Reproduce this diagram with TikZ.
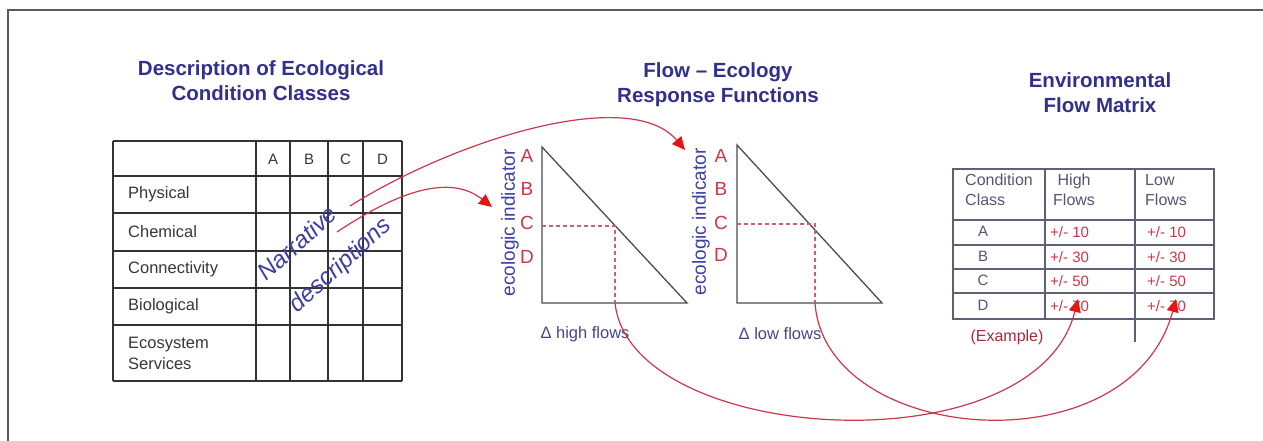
\documentclass[tikz,border=0pt]{standalone}
\usepackage{fontspec}
\setmainfont{Liberation Sans}
\usetikzlibrary{arrows.meta}
\definecolor{navy}{RGB}{50,48,140}
\definecolor{tblue}{RGB}{62,62,165}
\definecolor{lblue}{RGB}{70,70,140}
\definecolor{cred}{RGB}{205,55,75}
\definecolor{ared}{RGB}{230,20,20}
\definecolor{dred}{RGB}{205,95,115}
\definecolor{mline}{RGB}{95,95,120}
\definecolor{ltext}{RGB}{55,55,55}
\definecolor{mtext}{RGB}{85,85,115}
\begin{document}
\begin{tikzpicture}[x=1pt,y=-1pt,
  title/.style={font=\fontsize{20.5}{25}\selectfont\bfseries, text=navy, align=center, inner sep=0pt},
  rowlab/.style={font=\fontsize{16.5}{21}\selectfont, text=ltext, anchor=west, align=left, inner sep=0pt},
  collab/.style={font=\fontsize{15}{18}\selectfont, text=ltext, inner sep=0pt},
  tline/.style={line width=1.7pt, draw=black!80},
  gline/.style={line width=1.3pt, draw=black!70},
  dline/.style={line width=1.1pt, draw=dred, dash pattern=on 4pt off 3pt},
  glet/.style={font=\fontsize{19}{22}\selectfont, text=cred, inner sep=0pt},
  yaxis/.style={font=\fontsize{19}{22}\selectfont, text=tblue, rotate=90, inner sep=0pt},
  xaxis/.style={font=\fontsize{16.5}{20}\selectfont, text=lblue, inner sep=0pt},
  narr/.style={font=\fontsize{24}{28}\selectfont\itshape, text=tblue, rotate=42, inner sep=0pt},
  mlines/.style={line width=1.6pt, draw=mline},
  mhead/.style={font=\fontsize{16}{20}\selectfont, text=mtext, anchor=north west, align=left, inner sep=0pt},
  mlet/.style={font=\fontsize{15}{18}\selectfont, text=mtext, inner sep=0pt},
  mval/.style={font=\fontsize{15}{18}\selectfont, text=cred, anchor=west, inner sep=0pt},
  conn/.style={line width=1.2pt, draw=cred, -{Triangle[length=13pt,width=12pt,color=ared,fill=ared]}}
]
\useasboundingbox (0,0) rectangle (1263,441);
\fill[white] (0,0) rectangle (1263,441);
% frame
\draw[line width=2.2pt, draw=black!65] (8,441) -- (8,10) -- (1263,10);

% ---------- titles ----------
\node[title] (t1) at (261,81) {Description of Ecological\\Condition Classes};
\node[title] (t2) at (718,85) {Flow -- Ecology\\Response Functions};
\node[title] (t3) at (1100,93) {Environmental\\Flow Matrix};

% ---------- left table ----------
\foreach \y in {141,176,213,251,288,325,381} \draw[tline] (113,\y) -- (402,\y);
\foreach \x in {113,256,290,328,363,402} \draw[tline] (\x,141) -- (\x,381);
\node[collab] (hA) at (273,159) {A};
\node[collab] (hB) at (309,159) {B};
\node[collab] (hC) at (345.5,159) {C};
\node[collab] (hD) at (382.5,159) {D};
\node[rowlab] (r1) at (128,194.5) {Physical};
\node[rowlab] (r2) at (128,232) {Chemical};
\node[rowlab] (r3) at (128,269.5) {Connectivity};
\node[rowlab] (r4) at (128,306.5) {Biological};
\node[rowlab] (r5) at (128,353) {Ecosystem\\Services};
\node[narr] (nar) at (297,243) {Narrative};
\node[narr] (des) at (341,266) {descriptions};
\coordinate (s1) at (350,206);
\coordinate (s2) at (337,232);

% ---------- graph 1 ----------
\coordinate (g1a) at (542,147);
\coordinate (g1o) at (542,303);
\coordinate (g1e) at (687,303);
\coordinate (g1c) at (615,226);
\coordinate (g1b) at (615,303);
\draw[gline] (g1a) -- (g1o) -- (g1e) -- cycle;
\draw[dline] (542,226) -- (g1c) -- (g1b);
\node[glet] (g1A) at (527,156) {A};
\node[glet] (g1B) at (527,189) {B};
\node[glet] (g1C) at (527,223) {C};
\node[glet] (g1D) at (527,257) {D};
\node[yaxis] (g1y) at (510,223) {ecologic indicator};
\node[xaxis] (g1x) at (585,334) {Δ high flows};
\coordinate (e2) at (492,207);

% ---------- graph 2 ----------
\coordinate (g2a) at (737,145);
\coordinate (g2o) at (737,303);
\coordinate (g2e) at (882,303);
\coordinate (g2c) at (815,224);
\coordinate (g2b) at (815,303);
\draw[gline] (g2a) -- (g2o) -- (g2e) -- cycle;
\draw[dline] (737,224) -- (g2c) -- (g2b);
\node[glet] (g2A) at (721,156) {A};
\node[glet] (g2B) at (721,189) {B};
\node[glet] (g2C) at (721,223) {C};
\node[glet] (g2D) at (721,255) {D};
\node[yaxis] (g2y) at (701,222) {ecologic indicator};
\node[xaxis] (g2x) at (780,334) {Δ low flows};
\coordinate (e1) at (685,150);

% ---------- matrix ----------
\draw[mlines] (953,169) rectangle (1214,319);
\foreach \y in {220,245,269,293} \draw[mlines] (953,\y) -- (1214,\y);
\draw[mlines] (1045,169) -- (1045,319);
\draw[mlines] (1135,169) -- (1135,342);
\node[mhead] (mh1) at (965,174) {Condition\\Class};
\node[mhead] (mh2) at (1053,174) {\ High\\Flows};
\node[mhead] (mh3) at (1145,174) {Low\\Flows};
\node[mlet] (mA) at (983,231) {A};
\node[mlet] (mB) at (983,256) {B};
\node[mlet] (mC) at (983,280) {C};
\node[mlet] (mD) at (983,305) {D};
\node[mval] (hA1) at (1050,232) {+/- 10};
\node[mval] (hB1) at (1050,257) {+/- 30};
\node[mval] (hC1) at (1050,281) {+/- 50};
\node[mval] (hD1) at (1050,306) {+/- 70};
\node[mval] (lA1) at (1147,232) {+/- 10};
\node[mval] (lB1) at (1147,257) {+/- 30};
\node[mval] (lC1) at (1147,281) {+/- 50};
\node[mval] (lD1) at (1147,306) {+/- 70};
\node[font=\fontsize{16}{20}\selectfont, text=cred!80!black, inner sep=0pt] (ex) at (1007,337) {(Example)};
\coordinate (e3) at (1078,299);
\coordinate (e4) at (1176,299);

% ---------- connectors ----------
\draw[conn] (s1) .. controls (455,140) and (630,85) .. (e1);
\draw[conn] (s2) .. controls (385,200) and (445,170) .. (e2);
\draw[conn] (g1b) .. controls (630,445) and (1035,470) .. (e3);
\draw[conn] (g2b) .. controls (825,445) and (1130,470) .. (e4);
\end{tikzpicture}
\end{document}
